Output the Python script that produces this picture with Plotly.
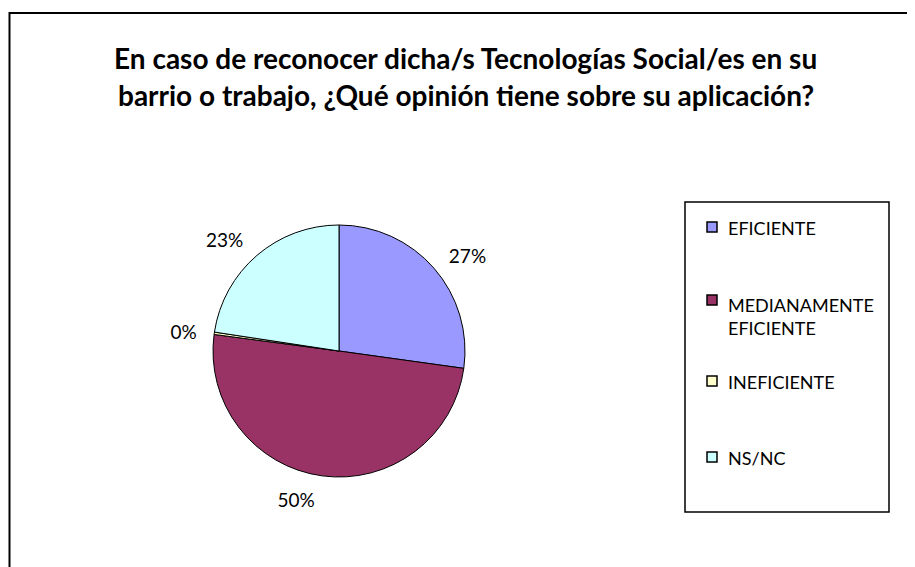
import plotly.graph_objects as go

# data
labels = ["EFICIENTE", "MEDIANAMENTE EFICIENTE", "INEFICIENTE", "NS/NC"]
legend_text = ["EFICIENTE", "MEDIANAMENTE<br>EFICIENTE", "INEFICIENTE", "NS/NC"]
values = [27.2, 49.9, 0.3, 22.6]
colors = ["#9999FF", "#993366", "#FFFFCC", "#CCFFFF"]

title_lines = [
    "En caso de reconocer dicha/s Tecnologías Social/es en su",
    "barrio o trabajo, ¿Qué opinión tiene sobre su aplicación?",
]

W, H = 915, 567
FONT = "Lato"
OFF = 8  # page body margin shifts the plot by 8px

# pixel helpers (screen coords -> paper coords)
def px(x):
    return (x - OFF) / W

def py(y):
    return 1 - (y - OFF) / H

cx, cy, r = 339, 351, 126
r_lab = r + 12  # Excel puts the % labels a bit further out

fig = go.Figure()

# the pie itself
fig.add_trace(go.Pie(
    labels=labels,
    values=values,
    sort=False,
    direction="clockwise",
    rotation=0,
    marker=dict(colors=colors, line=dict(color="black", width=1)),
    textinfo="none",
    domain=dict(x=[px(cx - r), px(cx + r)], y=[py(cy + r), py(cy - r)]),
    showlegend=False,
    hoverinfo="label+percent",
))

# same data on a slightly larger, invisible pie only to carry the % labels
fig.add_trace(go.Pie(
    labels=labels,
    values=values,
    sort=False,
    direction="clockwise",
    rotation=0,
    marker=dict(colors=["rgba(0,0,0,0)"] * len(labels), line=dict(width=0)),
    texttemplate="%{percent:.0%}",
    textposition="outside",
    textfont=dict(family=FONT, size=19, color="black"),
    domain=dict(x=[px(cx - r_lab), px(cx + r_lab)], y=[py(cy + r_lab), py(cy - r_lab)]),
    showlegend=False,
    hoverinfo="skip",
))

shapes = []
annotations = []

# outer chart frame (cropped at right and bottom in the reference);
# left edge can't go left of the page margin, so keep it just inside
shapes.append(dict(type="rect", xref="paper", yref="paper",
                   x0=px(9.5), y0=py(13), x1=px(940), y1=py(600),
                   line=dict(color="black", width=2)))

# title, two lines
for i, line in enumerate(title_lines):
    annotations.append(dict(text="<b>" + line + "</b>", xref="paper", yref="paper",
                            x=px(466), y=py(58 + 37 * i), showarrow=False,
                            xanchor="center", yanchor="middle",
                            font=dict(family=FONT, size=28, color="black")))

# legend box drawn by hand to keep Excel-like spacing
shapes.append(dict(type="rect", xref="paper", yref="paper",
                   x0=px(685), y0=py(202), x1=px(889), y1=py(512),
                   line=dict(color="black", width=1.5), fillcolor="white", layer="below"))

marker_y = [227, 300, 381, 457]
text_y = [228, 316, 382, 458]
for name, col, my, ty in zip(legend_text, colors, marker_y, text_y):
    shapes.append(dict(type="rect", xref="paper", yref="paper",
                       x0=px(707), y0=py(my + 5), x1=px(717), y1=py(my - 5),
                       line=dict(color="black", width=1.5), fillcolor=col))
    annotations.append(dict(text=name, xref="paper", yref="paper",
                            x=px(726), y=py(ty), showarrow=False,
                            xanchor="left", yanchor="middle", align="left",
                            font=dict(family=FONT, size=18, color="black")))

fig.update_layout(
    width=W,
    height=H,
    margin=dict(l=0, r=0, t=0, b=0),
    paper_bgcolor="white",
    plot_bgcolor="white",
    shapes=shapes,
    annotations=annotations,
)

fig.write_html("out.html")
